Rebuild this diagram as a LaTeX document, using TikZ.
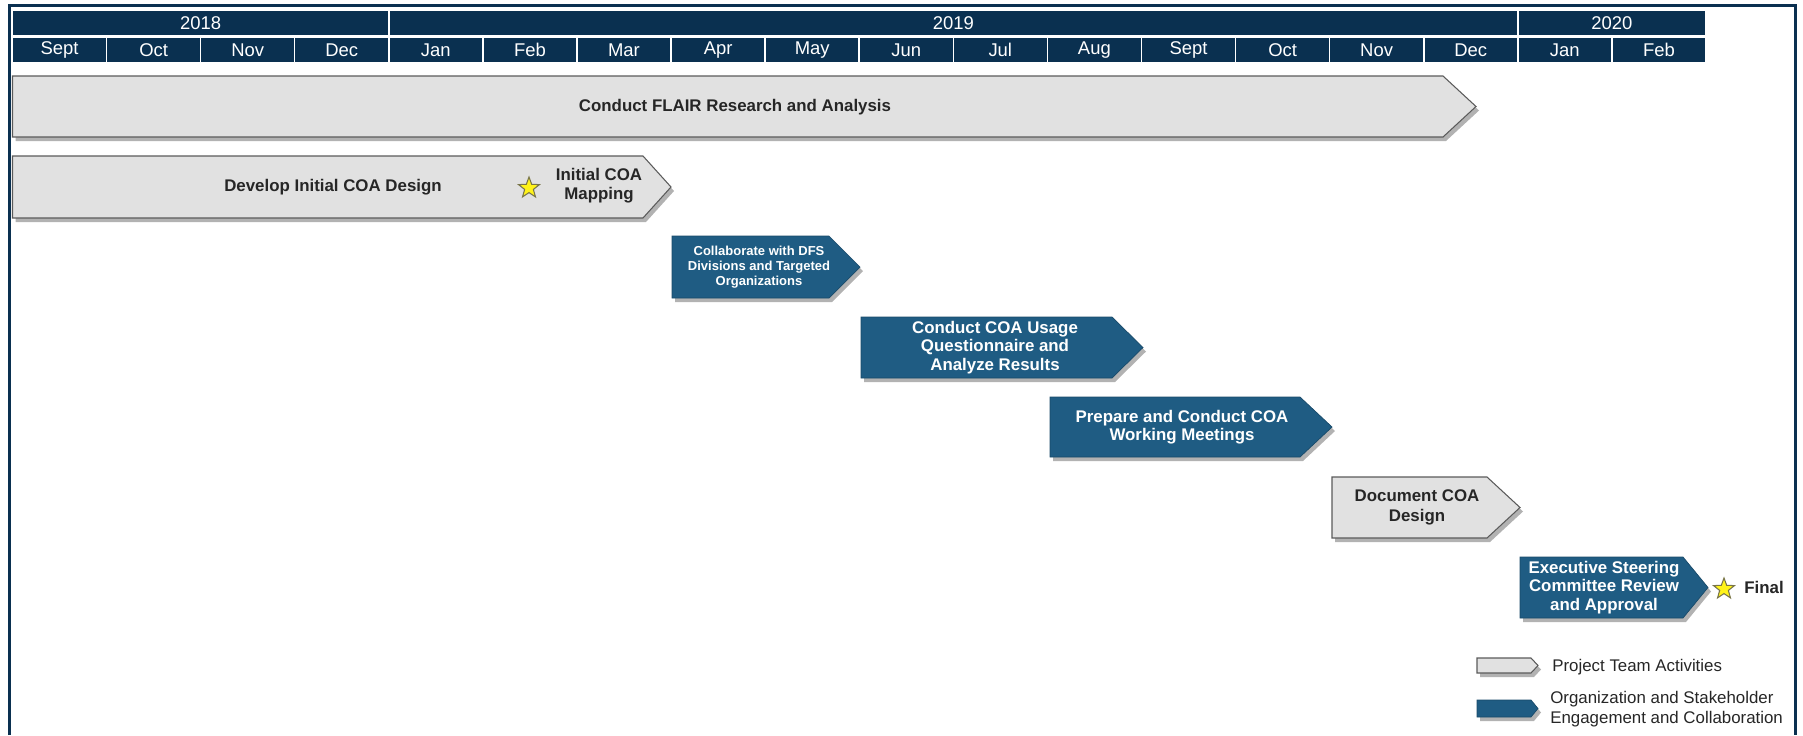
\documentclass[tikz,border=0pt]{standalone}
\usepackage{fontspec}
\setmainfont{Liberation Sans}
\usetikzlibrary{shapes.geometric}

\definecolor{hdrnavy}{HTML}{0A3050}
\definecolor{taskblue}{HTML}{1F5C83}
\definecolor{taskgray}{HTML}{E1E1E1}
\definecolor{edgegray}{HTML}{5A5A5A}

% bar with a pointed right end: (left,top)(flat end,bottom)(tip depth)
\def\taskbar[#1](#2,#3)(#4,#5)(#6){%
	\fill[barshadow] (#2+3,#3+4) -- (#4+3,#3+4) -- (#4+#6+3,{(#3+#5)/2+4}) -- (#4+3,#5+4) -- (#2+3,#5+4) -- cycle;
	\draw[#1] (#2,#3) -- (#4,#3) -- (#4+#6,{(#3+#5)/2}) -- (#4,#5) -- (#2,#5) -- cycle;}

\tikzset{
	hdrcell/.style={fill=hdrnavy, draw=white, line width=0.9pt},
	hdrtext/.style={text=white, font=\fontsize{10.5}{12}\selectfont, inner sep=0},
	graybar/.style={fill=taskgray, draw=edgegray, line width=0.6pt},
	bluebar/.style={fill=taskblue, draw=taskblue!80!black, line width=0.4pt},
	barshadow/.style={fill=black!55, opacity=0.55},
	darklabel/.style={text=black!85, font=\bfseries\fontsize{9.6}{11}\selectfont, align=center, inner sep=0},
	lightlabel/.style={text=white, font=\bfseries\fontsize{9.6}{10.6}\selectfont, align=center, inner sep=0},
	keystar/.style={star, star points=5, star point ratio=2.4, minimum size=0.44cm, inner sep=0,
		fill=yellow!90!white, draw=black!60!yellow, line width=0.6pt},
	legendtext/.style={text=black!85, font=\fontsize{9.6}{11.4}\selectfont, align=left, anchor=west, inner sep=0}
}

\begin{document}
\begin{tikzpicture}[x=0.02cm, y=-0.02cm]
			%%%%% START %%%%%
			\useasboundingbox (0,0) rectangle (1803,735);
			
			\draw[hdrnavy, line width=1.7pt] (9.5,735) -- (9.5,5) -- (1795,5) -- (1795,735);
			
			% years
			\draw[hdrcell] (12.5,10) rectangle (388.8,36);
			\node[hdrtext] (y2018) at (200.7,23) {2018};
			\draw[hdrcell] (388.8,10) rectangle (1517.8,36);
			\node[hdrtext] (y2019) at (953.3,23) {2019};
			\draw[hdrcell] (1517.8,10) rectangle (1706,36);
			\node[hdrtext] (y2020) at (1611.9,23) {2020};
			
			% months
			\draw[hdrcell] (12.5,37) rectangle (106.6,63);
			\node[hdrtext] (sep18) at (59.5,50) {Sept};
			\draw[hdrcell] (106.6,37) rectangle (200.7,63);
			\node[hdrtext] (oct18) at (153.6,50) {Oct};
			\draw[hdrcell] (200.7,37) rectangle (294.7,63);
			\node[hdrtext] (nov18) at (247.7,50) {Nov};
			\draw[hdrcell] (294.7,37) rectangle (388.8,63);
			\node[hdrtext] (dec18) at (341.8,50) {Dec};
			\draw[hdrcell] (388.8,37) rectangle (482.9,63);
			\node[hdrtext] (jan19) at (435.8,50) {Jan};
			\draw[hdrcell] (482.9,37) rectangle (577.0,63);
			\node[hdrtext] (feb19) at (529.9,50) {Feb};
			\draw[hdrcell] (577.0,37) rectangle (671.1,63);
			\node[hdrtext] (mar19) at (624.0,50) {Mar};
			\draw[hdrcell] (671.1,37) rectangle (765.1,63);
			\node[hdrtext] (apr19) at (718.1,50) {Apr};
			\draw[hdrcell] (765.1,37) rectangle (859.2,63);
			\node[hdrtext] (may19) at (812.2,50) {May};
			\draw[hdrcell] (859.2,37) rectangle (953.3,63);
			\node[hdrtext] (jun19) at (906.2,50) {Jun};
			\draw[hdrcell] (953.3,37) rectangle (1047.4,63);
			\node[hdrtext] (jul19) at (1000.3,50) {Jul};
			\draw[hdrcell] (1047.4,37) rectangle (1141.5,63);
			\node[hdrtext] (aug19) at (1094.4,50) {Aug};
			\draw[hdrcell] (1141.5,37) rectangle (1235.5,63);
			\node[hdrtext] (sep19) at (1188.5,50) {Sept};
			\draw[hdrcell] (1235.5,37) rectangle (1329.6,63);
			\node[hdrtext] (oct19) at (1282.6,50) {Oct};
			\draw[hdrcell] (1329.6,37) rectangle (1423.7,63);
			\node[hdrtext] (nov19) at (1376.6,50) {Nov};
			\draw[hdrcell] (1423.7,37) rectangle (1517.8,63);
			\node[hdrtext] (dec19) at (1470.7,50) {Dec};
			\draw[hdrcell] (1517.8,37) rectangle (1611.9,63);
			\node[hdrtext] (jan20) at (1564.8,50) {Jan};
			\draw[hdrcell] (1611.9,37) rectangle (1706,63);
			\node[hdrtext] (feb20) at (1658.9,50) {Feb};
			
			% tasks
			\taskbar[graybar](12.5,76)(1443,137)(33);
			\node[darklabel] (flair) at (735,107) {Conduct FLAIR Research and Analysis};
			
			\taskbar[graybar](12.5,156)(643,218)(28);
			\node[darklabel] (design) at (333,187) {Develop Initial COA Design};
			\node[keystar] (mapstar) at (529,188) {};
			\node[darklabel] (mapping) at (599,186) {Initial COA\\Mapping};
			
			\taskbar[bluebar](672,236)(829,298)(31);
			\node[lightlabel, font=\bfseries\fontsize{7.4}{8.5}\selectfont] (collab) at (759,267) {Collaborate with DFS\\Divisions and Targeted\\Organizations};
			
			\taskbar[bluebar](861,317)(1112,378)(31);
			\node[lightlabel] (usage) at (995,347.5) {Conduct COA Usage\\Questionnaire and\\Analyze Results};
			
			\taskbar[bluebar](1050,397)(1300,457)(32);
			\node[lightlabel] (meetings) at (1182,427) {Prepare and Conduct COA\\Working Meetings};
			
			\taskbar[graybar](1332,477)(1487,538)(33);
			\node[darklabel] (document) at (1417,507.5) {Document COA\\Design};
			
			\taskbar[bluebar](1520,557)(1683,618)(25);
			\node[lightlabel] (approval) at (1604,587.5) {Executive Steering\\Committee Review\\and Approval};
			\node[keystar] (finalstar) at (1724,589) {};
			\node[darklabel] (final) at (1764,587.5) {Final};
			
			% legend
			\taskbar[graybar](1477,658)(1531,673)(7);
			\node[legendtext] (teamkey) at (1552,667) {Project Team Activities};
			\taskbar[bluebar](1477,700)(1531,717)(7);
			\node[legendtext] (orgkey) at (1550,709) {Organization and Stakeholder\\Engagement and Collaboration};
			
			%%%%% END %%%%%
\end{tikzpicture}
\end{document}
